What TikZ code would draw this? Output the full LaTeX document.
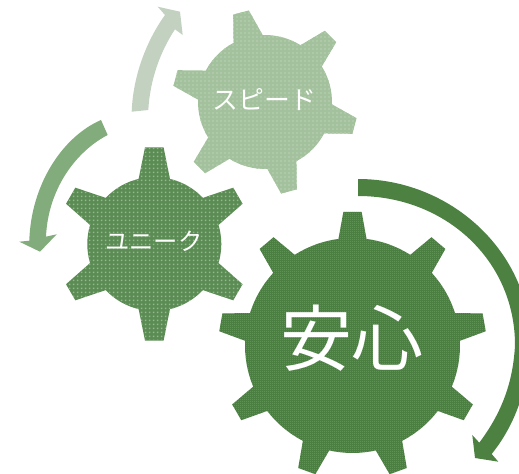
\documentclass[tikz,border=0pt]{standalone}
\usepackage{fontspec}
\newfontfamily\jpfont{Noto Sans CJK JP}
\usetikzlibrary{patterns}
\definecolor{gearA}{HTML}{A3C19C}
\definecolor{gearAl}{HTML}{AEC9A8}
\definecolor{gearB}{HTML}{5B8C54}
\definecolor{gearBl}{HTML}{94B98D}
\definecolor{gearC}{HTML}{4A7F41}
\definecolor{gearCl}{HTML}{7FA878}
\definecolor{arrA}{HTML}{C3D1C1}
\definecolor{arrB}{HTML}{82AC7B}
\definecolor{arrC}{HTML}{4C8142}
\pgfdeclarepatternformonly{finecheck}{\pgfqpoint{0pt}{0pt}}{\pgfqpoint{1.5pt}{1.5pt}}{\pgfqpoint{3pt}{3pt}}{%
  \pgfpathrectangle{\pgfqpoint{0pt}{0pt}}{\pgfqpoint{1.5pt}{1.5pt}}\pgfusepath{fill}}
\pgfdeclarepatternformonly{finegrid}{\pgfqpoint{0pt}{0pt}}{\pgfqpoint{3pt}{3pt}}{\pgfqpoint{3pt}{3pt}}{%
  \pgfpathrectangle{\pgfqpoint{0.75pt}{0.75pt}}{\pgfqpoint{1.5pt}{1.5pt}}\pgfusepath{fill}}
\pgfdeclarepatternformonly{finedots}{\pgfqpoint{0pt}{0pt}}{\pgfqpoint{1.5pt}{1.5pt}}{\pgfqpoint{1.5pt}{1.5pt}}{%
  \pgfpathrectangle{\pgfqpoint{0pt}{0pt}}{\pgfqpoint{.6pt}{.6pt}}\pgfusepath{fill}}
% style, cx cy body tip wbaseAngle wtipAngle n phase
\newcommand{\gearshape}[9]{%
  \def\gearcx{#2}\def\gearcy{#3}\def\gearr{#4}\def\gearrt{#5}%
  \def\gearwb{#6}\def\gearwt{#7}\def\gearn{#8}\def\gearph{#9}%
  \path[#1] ([shift={(\gearcx,\gearcy)}]\gearph-\gearwb:\gearr)
  \foreach \gi [evaluate=\gi as \ga using \gearph+(\gi-1)*360/\gearn,
                evaluate=\gi as \gb using \gearph+\gi*360/\gearn] in {1,...,\gearn}{
    -- ([shift={(\gearcx,\gearcy)}]\ga-\gearwt:\gearrt)
    -- ([shift={(\gearcx,\gearcy)}]\ga+\gearwt:\gearrt)
    -- ([shift={(\gearcx,\gearcy)}]\ga+\gearwb:\gearr)
    arc[start angle=\ga+\gearwb,end angle=\gb-\gearwb,radius=\gearr]
  } -- cycle;}
\tikzset{
  label jp/.style={text=white,inner sep=0pt},
  gear fill a/.style={preaction={fill=gearA},pattern=finecheck,pattern color=gearAl},
  gear fill b/.style={preaction={fill=gearB},pattern=finegrid,pattern color=gearBl},
  gear fill c/.style={preaction={fill=gearC},pattern=finedots,pattern color=gearCl},
}
\begin{document}
\begin{tikzpicture}[x=.75pt,y=.75pt,yscale=-1]
\useasboundingbox (0,0) rectangle (519,474);
\clip (0,0) rectangle (519,474);
% arrows
\fill[arrA] (131.7,111.7) .. controls (133,75) and (147,40) .. (165,15) -- (157.7,6.7) -- (180,11.7) -- (182.7,35) -- (175,29.3) .. controls (160,52) and (150,80) .. (148.3,110) -- cycle;
\fill[arrB] (101,120) .. controls (62,137) and (31,185) .. (29.3,240.7) -- (19.3,241.7) -- (40,251.7) -- (56.7,234.3) -- (46,236.7) .. controls (48,190) and (75,152) .. (107.7,135) -- cycle;
\fill[arrC] (358,179) .. controls (455,179) and (535,258) .. (530,350) .. controls (527,390) and (515,425) .. (491.7,454) -- (498.3,461.7) -- (475,458) -- (472.3,435) -- (479.3,442.7) .. controls (500,415) and (513,385) .. (515,345) .. controls (515,260) and (445,196) .. (358,196) -- cycle;
% gears
\gearshape{gear fill a}{265}{102}{67}{93}{13}{5}{6}{-105}
\gearshape{gear fill b}{154.3}{244}{67}{97}{13.5}{5.5}{6}{-90}
\gearshape{gear fill c}{352.5}{345.5}{107.5}{134}{7.5}{3.9}{9}{-90}
% labels
\node[label jp,font=\jpfont\fontsize{19.4}{22}\selectfont] (speed) at (264.5,100) {スピード};
\node[label jp,font=\jpfont\fontsize{18.2}{22}\selectfont] (unique) at (154,241) {ユニーク};
\node[label jp,font=\jpfont\fontsize{54}{60}\selectfont] (anshin) at (352,338) {安心};
\end{tikzpicture}
\end{document}
